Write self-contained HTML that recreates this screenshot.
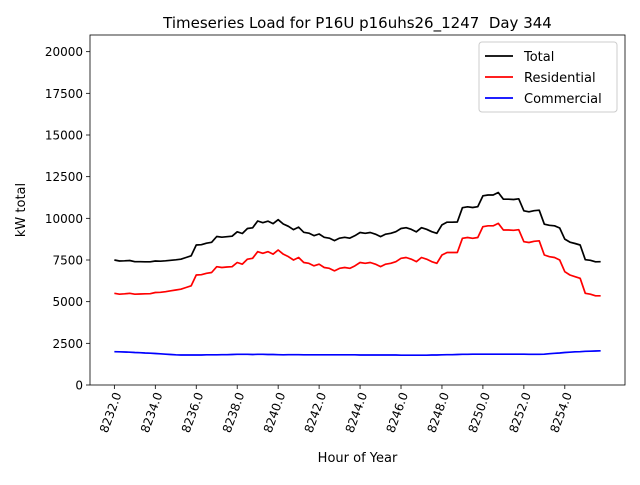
<!DOCTYPE html>
<html><head><meta charset="utf-8"><style>
body{margin:0;background:#fff;font-family:"Liberation Sans","DejaVu Sans",sans-serif}
svg text{font-family:"DejaVu Sans","Liberation Sans",sans-serif}
</style></head><body>
<svg id="c" width="640" height="480"></svg>
<script>
const categoriesStartHour = 8232;
const stepHours = 0.25;
const residential = [5500,5450,5470,5500, 5450,5460,5470,5480, 5550,5560,5600,5650, 5700,5750,5850,5950, 6600,6620,6700,6750, 7100,7050,7080,7100, 7350,7250,7550,7600, 8000,7900,8000,7850, 8100,7850,7700,7500, 7650,7350,7300,7150, 7250,7050,7000,6850, 7000,7050,7000,7150, 7350,7300,7350,7250, 7100,7250,7300,7400, 7600,7650,7550,7400, 7650,7550,7400,7300, 7800,7950,7950,7950, 8800,8850,8800,8850, 9500,9550,9550,9700, 9300,9300,9280,9320, 8600,8550,8620,8650, 7800,7700,7650,7500, 6800,6600,6500,6400, 5500,5450,5350,5350];
const commercial = [2000,1990,1980,1970, 1950,1940,1920,1910, 1890,1870,1850,1830, 1810,1800,1800,1800, 1800,1800,1810,1810, 1810,1820,1820,1830, 1840,1840,1840,1830, 1840,1840,1830,1830, 1820,1810,1820,1820, 1820,1810,1810,1810, 1810,1810,1810,1810, 1810,1810,1810,1810, 1800,1800,1800,1800, 1800,1800,1800,1800, 1790,1790,1790,1790, 1790,1790,1800,1800, 1810,1820,1820,1830, 1840,1840,1850,1850, 1850,1850,1850,1850, 1850,1850,1850,1850, 1850,1840,1840,1840, 1850,1880,1900,1920, 1950,1970,1990,2000, 2020,2030,2040,2050];
const total = [7500,7440,7450,7470, 7400,7400,7390,7390, 7440,7430,7450,7480, 7510,7550,7650,7750, 8400,8420,8510,8560, 8910,8870,8900,8930, 9190,9090,9390,9430, 9840,9740,9830,9680, 9920,9660,9520,9320, 9470,9160,9110,8960, 9060,8860,8810,8660, 8810,8860,8810,8960, 9150,9100,9150,9050, 8900,9050,9100,9200, 9390,9440,9340,9190, 9440,9340,9200,9100, 9610,9770,9770,9780, 10640,10690,10650,10700, 11350,11400,11400,11550, 11150,11150,11130,11170, 10450,10390,10460,10490, 9650,9580,9550,9420, 8750,8570,8490,8400, 7520,7480,7390,7400];
const xTicks = [8232,8234,8236,8238,8240,8242,8244,8246,8248,8250,8252,8254];
const yTicks = [0,2500,5000,7500,10000,12500,15000,17500,20000];

const L=90,R=625,T=35,B=385;
const xmin=8230.81,xmax=8256.94,ymin=0,ymax=21000;
const X=v=>L+(v-xmin)/(xmax-xmin)*(R-L);
const Y=v=>B-(v-ymin)/(ymax-ymin)*(B-T);
const svg=document.getElementById('c');
const NS='http://www.w3.org/2000/svg';
function mk(tag,attrs,parent){const e=document.createElementNS(NS,tag);for(const k in attrs)e.setAttribute(k,attrs[k]);(parent||svg).appendChild(e);return e;}

let t=mk('text',{x:(L+R)/2,y:28,'text-anchor':'middle','font-size':15});
t.textContent='Timeseries Load for P16U p16uhs26_1247\u00a0 Day 344';



xTicks.forEach(v=>{
  const x=X(v);
  const tk=mk('line',{x1:x,x2:x,y1:B,y2:B+4,stroke:'#000','stroke-width':0.8});
  
  
  const lb=mk('text',{x:0,y:0,'font-size':12,'text-anchor':'end',transform:`translate(${x+4},${B+8}) rotate(-70)`,'dominant-baseline':'middle'});
  lb.textContent=v.toFixed(1);
  
  
});
yTicks.forEach(v=>{
  const y=Y(v);
  const tk=mk('line',{x1:L-4,x2:L,y1:y,y2:y,stroke:'#000','stroke-width':0.8});
  
  
  const lb=mk('text',{x:L-7,y:y+4.5,'font-size':12,'text-anchor':'end'});
  lb.textContent=v;
  
  
});

function series(arr,color,name){
  const pts=arr.map((v,i)=>X(categoriesStartHour+i*stepHours).toFixed(2)+','+Y(v).toFixed(2)).join(' ');
  const p=mk('polyline',{points:pts,fill:'none',stroke:color,'stroke-width':1.7,'stroke-linejoin':'round'});
  
  
}
series(total,'#000','total-line');
series(residential,'#ff0000','residential-line');
series(commercial,'#0000ff','commercial-line');

const frame=mk('rect',{x:L,y:T,width:R-L,height:B-T,fill:'none',stroke:'#000','stroke-width':0.8});



let xl=mk('text',{x:(L+R)/2,y:462,'text-anchor':'middle','font-size':13});
xl.textContent='Hour of Year';


let yl=mk('text',{x:0,y:0,'text-anchor':'middle','font-size':13,transform:`translate(25,${(T+B)/2}) rotate(-90)`});
yl.textContent='kW total';



const lg=mk('g',{});


mk('rect',{x:479,y:42,width:138,height:70,rx:3,fill:'#fff',stroke:'#ccc','stroke-width':1},lg);
[['Total','#000',56],['Residential','#ff0000',77],['Commercial','#0000ff',98]].forEach(([n,c,y])=>{
  const ln=mk('line',{x1:485,x2:513,y1:y,y2:y,stroke:c,'stroke-width':1.7},lg);
  
  
  const tx=mk('text',{x:524,y:y+5,'font-size':13},lg);
  tx.textContent=n;
  
  
});
</script>
</body></html>
